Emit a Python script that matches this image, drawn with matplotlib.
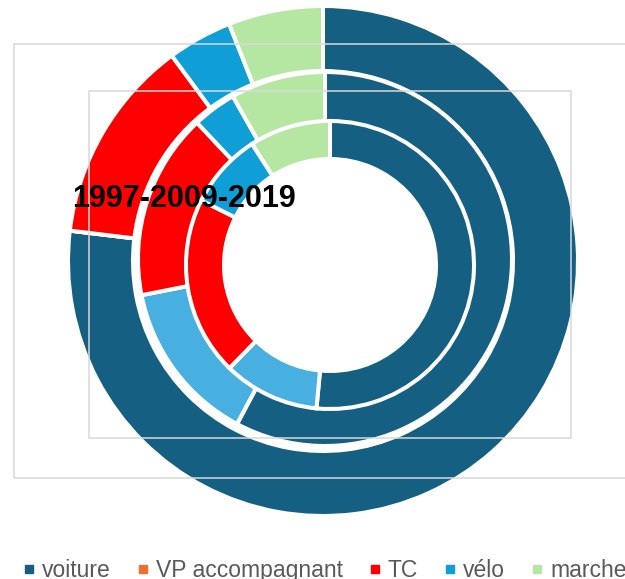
import matplotlib
matplotlib.use("Agg")
import matplotlib.pyplot as plt
from matplotlib.lines import Line2D
from matplotlib.patches import Rectangle

categories = ["voiture", "VP accompagnant", "TC", "vélo", "marche"]
parts_1997 = [76.9, 0.0, 13.0, 4.1, 6.0]
parts_2009 = [57.8, 14.1, 16.1, 3.8, 8.2]
parts_2019 = [51.5, 10.8, 20.1, 8.5, 9.1]

ring_colors = ["#156082", "#47b0e0", "#ff0000", "#0f9ed5", "#b5e6a2"]
legend_colors = ["#156082", "#e97132", "#ff0000", "#0f9ed5", "#b5e6a2"]
title = "1997-2009-2019"

W, H = 625, 579
fig = plt.figure(figsize=(W / 100, H / 100), dpi=100)
ax = fig.add_axes([0, 0, 1, 1])

# three doughnuts laid over each other, like separate charts
# (values, center x, center y (px from top), outer radius, hole radius)
rings = [(parts_1997, 323, 261, 255, 190),
         (parts_2009, 325, 259, 187, 135),
         (parts_2019, 330, 265, 144, 106)]
for vals, cx, cy, r, hole in rings:
    ax.pie(vals, colors=ring_colors, radius=r, center=(cx, H - cy),
           startangle=90, counterclock=False,
           wedgeprops=dict(width=r - hole, edgecolor="white", linewidth=2.9))

# leftover plot-area borders
ax.add_patch(Rectangle((14, H - 478), 640, 434, fill=False, ec="#d9d9d9", lw=1.1, zorder=5))
ax.add_patch(Rectangle((89, H - 438), 482, 347, fill=False, ec="#d9d9d9", lw=1.1, zorder=5))

ax.set_xlim(0, W)
ax.set_ylim(0, H)
ax.set_aspect("auto")
ax.axis("off")

fig.text(183.5 / W, 1 - 207 / H, title, ha="center", va="baseline",
         fontsize=22, fontweight="bold", family="Liberation Sans", zorder=10)

handles = [Line2D([], [], marker="s", ms=5.5, color=c, ls="none") for c in legend_colors]
fig.legend(handles, categories, loc="upper left", bbox_to_anchor=(22 / W, 1 - 559 / H),
           ncol=5, frameon=False, prop={"family": "Liberation Sans", "size": 16.5},
           handlelength=0.6, handletextpad=0.27, columnspacing=1.1,
           borderpad=0, borderaxespad=0, labelcolor="#595959")

fig.savefig("out.png", dpi=100)
